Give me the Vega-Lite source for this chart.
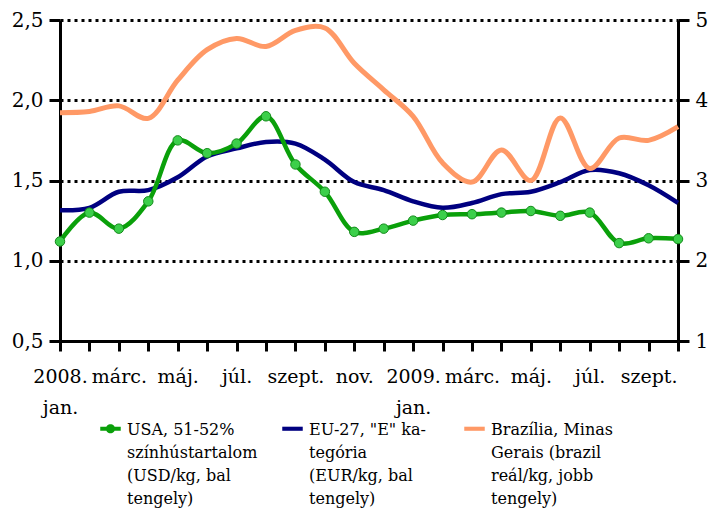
{
  "$schema": "https://vega.github.io/schema/vega-lite/v6.json",
  "autosize": {"type": "none"},
  "padding": {"left": 60, "top": 20, "right": 32, "bottom": 170},
  "width": 618,
  "height": 321,
  "background": "white",
  "config": {
    "view": {"stroke": null},
    "font": "DejaVu Serif",
    "axis": {
      "labelFont": "DejaVu Serif",
      "labelFontSize": 19,
      "labelColor": "black",
      "domainColor": "black",
      "domainWidth": 3,
      "tickColor": "black",
      "tickWidth": 3,
      "title": null
    },
    "legend": {
      "labelFont": "DejaVu Serif"
    }
  },
  "data": {
    "values": [
      {"honap": "2008-01", "usa": 1.12, "eu": 1.315, "bra": 3.845},
      {"honap": "2008-02", "usa": 1.30, "eu": 1.33, "bra": 3.86},
      {"honap": "2008-03", "usa": 1.20, "eu": 1.43, "bra": 3.93},
      {"honap": "2008-04", "usa": 1.37, "eu": 1.44, "bra": 3.775},
      {"honap": "2008-05", "usa": 1.75, "eu": 1.52, "bra": 4.25},
      {"honap": "2008-06", "usa": 1.67, "eu": 1.65, "bra": 4.63},
      {"honap": "2008-07", "usa": 1.73, "eu": 1.70, "bra": 4.77},
      {"honap": "2008-08", "usa": 1.90, "eu": 1.74, "bra": 4.67},
      {"honap": "2008-09", "usa": 1.60, "eu": 1.73, "bra": 4.87},
      {"honap": "2008-10", "usa": 1.43, "eu": 1.63, "bra": 4.90},
      {"honap": "2008-11", "usa": 1.18, "eu": 1.49, "bra": 4.46},
      {"honap": "2008-12", "usa": 1.20, "eu": 1.44, "bra": 4.13},
      {"honap": "2009-01", "usa": 1.25, "eu": 1.37, "bra": 3.80},
      {"honap": "2009-02", "usa": 1.285, "eu": 1.33, "bra": 3.22},
      {"honap": "2009-03", "usa": 1.29, "eu": 1.36, "bra": 2.98},
      {"honap": "2009-04", "usa": 1.30, "eu": 1.415, "bra": 3.38},
      {"honap": "2009-05", "usa": 1.31, "eu": 1.43, "bra": 3.0},
      {"honap": "2009-06", "usa": 1.28, "eu": 1.49, "bra": 3.78},
      {"honap": "2009-07", "usa": 1.30, "eu": 1.565, "bra": 3.15},
      {"honap": "2009-08", "usa": 1.11, "eu": 1.545, "bra": 3.53},
      {"honap": "2009-09", "usa": 1.14, "eu": 1.47, "bra": 3.50},
      {"honap": "2009-10", "usa": 1.135, "eu": 1.36, "bra": 3.67}
    ]
  },
  "encoding": {
    "x": {
      "field": "honap",
      "type": "ordinal",
      "sort": null,
      "scale": {"type": "point", "padding": 0},
      "axis": {
        "labelAngle": 0,
        "tickSize": 10,
        "labelPadding": 16,
        "labelLineHeight": 31,
        "labelOverlap": false,
        "labelBound": false,
        "labelBaseline": "top",
        "labelExpr": "toNumber(slice(datum.value,5)) % 2 == 0 ? '' : (slice(datum.value,5) == '01' ? [slice(datum.value,0,4) + '.', 'jan.'] : ['','','márc.','','máj.','','júl.','','szept.','','nov.',''][toNumber(slice(datum.value,5)) - 1])"
      }
    }
  },
  "layer": [
    {
      "layer": [
        {
          "transform": [{"fold": ["eu", "usa"], "as": ["sorozat", "ertek"]}],
          "mark": {"type": "line", "strokeWidth": 4.5, "interpolate": "catmull-rom"},
          "encoding": {
            "y": {
              "field": "ertek",
              "type": "quantitative",
              "scale": {"domain": [0.5, 2.5], "nice": false, "zero": false},
              "axis": {
                "orient": "left",
                "values": [0.5, 1, 1.5, 2, 2.5],
                "labelExpr": "replace(format(datum.value, '.1f'), '.', ',')",
                "labelFontSize": 20,
                "tickSize": 11,
                "labelPadding": 6,
                "grid": true,
                "gridColor": "black",
                "gridWidth": 3,
                "gridDash": [3, 4]
              }
            },
            "color": {
              "field": "sorozat",
              "type": "nominal",
              "scale": {"domain": ["usa", "eu", "bra"], "range": ["#0aa00a", "#000080", "#ff9966"]},
              "legend": {
                "orient": "none",
                "legendX": 40,
                "legendY": 398,
                "title": null,
                "columns": 3,
                "direction": "horizontal",
                "gridAlign": "all",
                "columnPadding": 24,
                "symbolSize": 420,
                "labelFontSize": 16,
                "labelColor": "black",
                "labelBaseline": "top",
                "labelOffset": 6,
                "labelLimit": 300,
                "labelExpr": "datum.value == 'usa' ? ['USA, 51-52%', 'színhústartalom', '(USD/kg, bal', 'tengely)'] : (datum.value == 'eu' ? ['EU-27, \"E\" ka-', 'tegória', '(EUR/kg, bal', 'tengely)'] : ['Brazília, Minas', 'Gerais (brazil', 'reál/kg, jobb', 'tengely)'])",
                "encode": {
                  "labels": {
                    "update": {
                      "lineHeight": {"value": 23},
                      "dy": {"value": -7}
                    }
                  },
                  "symbols": {
                    "update": {
                      "shape": {"signal": "datum.value == 'usa' ? 'M-1,-0.2H1V0.2H-1Z M0.45,0A0.45,0.45 0 1,1 -0.45,0A0.45,0.45 0 1,1 0.45,0Z' : 'M-1,-0.2H1V0.2H-1Z'"},
                      "fill": {"signal": "scale('color', datum.value)"},
                      "strokeWidth": {"value": 0}
                    }
                  }
                }
              }
            }
          }
        },
        {
          "mark": {"type": "point", "filled": true, "size": 90, "color": "#3ccf4a", "stroke": "#138a1a", "strokeWidth": 1, "opacity": 1},
          "encoding": {
            "y": {"field": "usa", "type": "quantitative"}
          }
        }
      ]
    },
    {
      "transform": [{"fold": ["bra"], "as": ["sorozat", "ertek"]}],
      "mark": {"type": "line", "strokeWidth": 5, "interpolate": "catmull-rom"},
      "encoding": {
        "y": {
          "field": "ertek",
          "type": "quantitative",
          "scale": {"domain": [1, 5], "nice": false, "zero": false},
          "axis": {
            "orient": "right",
            "values": [1, 2, 3, 4, 5],
            "format": "d",
            "labelFontSize": 20,
            "tickSize": 11,
            "labelPadding": 6,
            "grid": false
          }
        },
        "color": {"field": "sorozat", "type": "nominal"}
      }
    }
  ],
  "resolve": {"scale": {"y": "independent"}}
}
